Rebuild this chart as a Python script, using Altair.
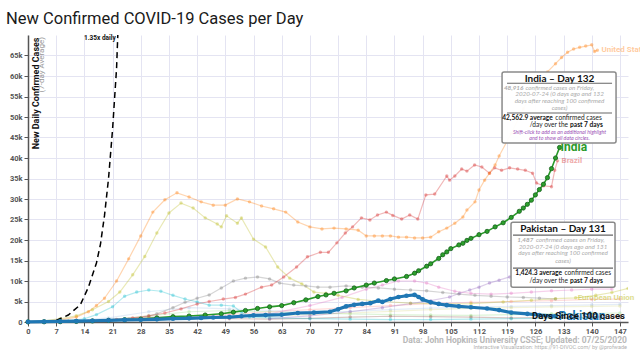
import altair as alt
import pandas as pd

TITLE = "New Confirmed COVID-19 Cases per Day"
Y_TITLE = "New Daily Confirmed Cases"
Y_SUBTITLE = "(7-day Average)"
X_TITLE = "Days Since 100 cases"
SOURCE = "Data: John Hopkins University CSSE; Updated: 07/25/2020"
CREDIT = "Interactive Visualization: https://91-DIVOC.com/ by @profwade"
REF_LABEL = "1.35x daily"
X_MAX = 149
Y_MAX = 70000
x_ticks = list(range(0, 148, 7))
y_ticks = list(range(0, 65001, 5000))

# ---- values in thousands of cases (7-day average) ----
us_days = [0, 4, 8, 12, 15, 17, 19, 22, 25, 28, 31, 34, 37, 40, 43, 46, 49, 52, 55, 58,
           61, 64, 67, 70, 73, 76, 79, 82, 84, 86, 88, 90, 92, 94, 96, 98, 100, 102, 104, 106,
           108, 109, 111, 112, 113.4, 114.6, 116, 117, 120, 123, 126, 129, 131, 132.5, 134,
           135.5, 137, 138.5, 140, 140.7, 141.4]
us_vals = [0.1, 0.2, 0.5, 1.2, 2.5, 4.0, 5.8, 10.0, 15.4, 21.0, 26.8, 29.8, 31.5, 30.5, 29.3,
           28.5, 28.5, 30.0, 29.3, 28.3, 27.6, 26.8, 24.4, 23.2, 22.7, 22.9, 22.7, 22.4, 21.0,
           21.0, 21.0, 21.0, 20.7, 20.7, 20.5, 20.5, 20.7, 22.0, 22.9, 24.1, 25.6, 27.3, 29.3,
           32.2, 34.6, 36.3, 38.3, 40.5, 46.0, 52.0, 57.0, 61.0, 63.0, 64.5, 65.8, 66.6, 67.0,
           67.3, 67.6, 66.0, 66.3]

br_days = [14, 18, 22, 26, 30, 34, 38, 42, 45, 48.5, 51.5, 54, 58, 60.5, 63.5, 66.7, 69.4,
           72.6, 74.6, 76.7, 78.8, 80.6, 82.8, 84.9, 86.8, 89, 90.6, 92.8, 94.8, 96.8, 98.8,
           101, 104, 104.7, 106, 107.7, 109, 110.9, 112.7, 114.6, 115.9, 117.6, 119.6, 121.6,
           123.5, 125.3, 126.3, 128, 130, 130.8, 131.5]
br_vals = [0.1, 0.3, 0.6, 1.0, 1.5, 2.2, 3.2, 4.4, 5.0, 5.6, 6.0, 6.8, 8.5, 9.0, 11.0, 13.4,
           15.9, 17.0, 17.0, 19.3, 21.7, 23.2, 25.4, 24.9, 26.1, 26.8, 26.0, 25.1, 26.1, 25.1,
           31.0, 31.2, 35.6, 34.6, 35.6, 37.3, 36.8, 38.3, 37.8, 36.3, 37.6, 37.0, 37.6, 37.3,
           37.0, 36.3, 33.9, 33.2, 33.0, 37.0, 39.3]

eu_days = [0, 4, 8, 12, 16, 20, 22.8, 26, 29, 32, 35, 38, 41, 44, 47, 48, 49.3, 52, 53, 56,
           59, 62, 65, 68, 71, 74, 77, 82, 88, 95, 102, 110, 118, 125, 131, 136, 141, 145, 149]
eu_vals = [0.1, 0.3, 0.8, 1.5, 3.0, 5.0, 7.3, 11.5, 16.0, 21.7, 26.6, 29.0, 27.8, 25.4, 23.9,
           23.2, 25.9, 24.1, 25.4, 20.2, 18.3, 13.4, 10.7, 9.3, 7.3, 7.0, 6.5, 5.5, 5.0, 4.6,
           4.4, 4.5, 4.9, 5.3, 5.7, 5.9, 6.5, 7.2, 8.2]

ru_days = [10, 15, 20, 25, 28, 32, 36, 39, 42, 45, 48, 51, 54, 57, 60, 62.5, 66, 69, 72, 75,
           79, 83, 87, 91, 95, 99, 103, 107, 111, 115, 119, 123, 127, 131]
ru_vals = [0.05, 0.2, 0.4, 0.7, 1.0, 2.0, 3.5, 4.8, 5.8, 6.6, 8.3, 10.0, 10.7, 11.0, 10.5, 9.5,
           9.0, 8.8, 8.5, 8.5, 8.8, 8.5, 8.3, 8.0, 7.8, 7.6, 7.2, 6.8, 6.5, 6.3, 6.1, 6.0, 5.8, 5.6]

cy_days = [10, 14, 17, 21, 24, 27, 30, 33, 36, 39, 42, 45, 48, 51, 53, 55, 60, 70, 80, 90,
           100, 110, 120, 130, 140]
cy_vals = [0.2, 0.8, 1.8, 3.7, 6.3, 7.3, 7.8, 7.5, 6.5, 5.6, 4.9, 4.1, 4.1, 3.9, 2.4, 1.2, 1.0,
           0.8, 0.7, 0.6, 0.6, 0.7, 0.8, 0.9, 1.0]

lv_days = [60, 70, 80, 88, 95, 100, 104.7, 107.2, 109.7, 112, 114.6, 117, 119.6, 122, 125, 128]
lv_vals = [0.8, 1.5, 2.5, 3.5, 4.5, 5.2, 6.1, 7.0, 7.8, 8.5, 9.5, 10.2, 11.0, 12.0, 12.5, 13.0]

pk_days = [50, 60, 70, 78, 84, 88, 92, 96, 99, 102, 106, 110, 115, 120, 125, 130, 135, 140, 145]
pk_vals = [1.0, 2.0, 4.0, 6.0, 8.0, 9.0, 10.0, 10.0, 9.5, 8.5, 7.5, 7.0, 6.8, 7.0, 7.3, 7.6,
           7.8, 8.0, 8.0]

low_days = [10, 20, 30, 40, 50, 60, 70, 80, 90, 100, 110, 120, 130, 140, 147]
low1_vals = [0.1, 0.3, 0.6, 1.2, 1.8, 2.5, 3.0, 3.5, 4.0, 4.5, 4.8, 5.0, 5.2, 5.5, 5.6]
low2_vals = [0.1, 0.5, 1.5, 2.5, 2.8, 2.5, 2.2, 2.0, 1.8, 1.7, 1.6, 1.8, 2.0, 2.1, 2.2]
low3_vals = [0.1, 0.6, 1.2, 1.0, 0.8, 0.7, 0.9, 1.2, 1.4, 1.3, 1.2, 1.0, 1.1, 1.2, 1.3]
low4_vals = [0.2, 1.0, 2.5, 3.5, 3.2, 2.8, 2.5, 2.6, 3.0, 3.4, 3.6, 3.8, 4.0, 4.2, 4.3]
low5_vals = [0.1, 0.4, 0.8, 1.0, 1.3, 1.5, 1.8, 2.2, 2.6, 3.0, 3.3, 3.5, 3.7, 3.8, 3.9]

india_days = [0, 4, 8, 12, 16, 20, 24, 28, 32, 36, 40, 44, 48, 51, 54, 57, 60, 63, 66, 69,
              72, 74, 76, 79, 81, 84, 86, 89, 91, 94, 96, 97, 99, 100, 102, 103, 104, 105, 107,
              108, 109, 110, 112, 114, 116, 118, 120, 122, 123, 124, 125, 126, 127, 128, 129,
              130, 131, 132]
india_vals = [0.02, 0.05, 0.08, 0.15, 0.25, 0.4, 0.55, 0.7, 1.0, 1.3, 1.45, 1.7, 2.0, 2.4, 2.8,
              3.3, 3.7, 4.0, 4.7, 5.4, 6.2, 6.6, 7.0, 7.6, 8.3, 9.0, 9.5, 10.1, 10.5, 11.1, 11.9,
              12.5, 13.6, 14.2, 15.5, 16.4, 17.1, 17.9, 18.8, 19.2, 19.9, 20.4, 21.3, 22.1, 23.2,
              24.2, 25.5, 27.0, 27.8, 28.7, 29.7, 31.0, 32.3, 33.6, 35.2, 37.4, 40.0, 42.5629]

pak_days = [0, 4, 8, 12, 16, 20, 24, 28, 32, 36, 40, 43, 46, 50, 53, 56, 59, 63, 67, 71, 75,
            77, 79, 81, 83, 85, 87, 88, 90, 92, 94, 96, 97, 98, 100, 102, 104, 107, 110, 114,
            117, 120, 124, 127, 131]
pak_vals = [0.05, 0.1, 0.15, 0.2, 0.3, 0.4, 0.5, 0.55, 0.65, 0.8, 0.9, 1.0, 1.1, 1.2, 1.4, 1.6,
            1.7, 1.8, 2.2, 2.3, 2.5, 3.1, 3.8, 4.2, 4.4, 4.6, 5.2, 4.9, 5.6, 6.1, 6.4, 6.6, 6.1,
            5.5, 4.8, 4.4, 4.1, 3.8, 3.6, 3.3, 2.9, 2.3, 2.0, 1.7, 1.4243]

ref_days = [7, 10, 13, 15, 17, 18, 19, 20, 21, 22, 22.3]
ref_vals = [0.4, 1.7, 4.2, 8.5, 14.4, 19, 26, 35, 47, 62, 70]

faint = [
    ("Other 1", "#ff9896", low_days, low1_vals),
    ("Other 2", "#98df8a", low_days, low2_vals),
    ("Other 3", "#8c564b", low_days, low3_vals),
    ("Other 4", "#aec7e8", low_days, low4_vals),
    ("Other 5", "#dbdb8d", low_days, low5_vals),
    ("Cyan", "#17becf", cy_days, cy_vals),
    ("Lavender", "#9467bd", lv_days, lv_vals),
    ("Pink", "#e377c2", pk_days, pk_vals),
    ("Russia", "#7f7f7f", ru_days, ru_vals),
    ("European Union", "#bcbd22", eu_days, eu_vals),
    ("Brazil", "#d62728", br_days, br_vals),
    ("United States", "#ff7f0e", us_days, us_vals),
]


def frame(days, vals, name):
    return pd.DataFrame({"country": name, "day": days, "value": [v * 1000 for v in vals]})


faint_df = pd.concat([frame(d, v, n) for n, _, d, v in faint], ignore_index=True)
faint_names = [n for n, _, _, _ in faint]
faint_colors = [c for _, c, _, _ in faint]
india_df = frame(india_days, india_vals, "India")
pak_df = frame(pak_days, pak_vals, "Pakistan")
ref_df = frame(ref_days, ref_vals, "ref")

LAB = "Roboto"
xs = alt.Scale(domain=[0, X_MAX], nice=False, zero=False)
ys = alt.Scale(domain=[0, Y_MAX], nice=False)
x_axis = alt.Axis(values=x_ticks, title=None, labelFont=LAB, labelFontSize=7.5,
                  labelFontWeight="bold", labelColor="#555", tickColor="#555", tickSize=4,
                  domainColor="#555", domainWidth=1.5, gridColor="#e4e4f2", labelPadding=1,
                  labelFlush=False)
y_axis = alt.Axis(values=y_ticks, labelExpr="datum.value == 0 ? '0' : (datum.value / 1000) + 'k'",
                  title=Y_TITLE, titleAngle=270, titleAlign="right", titleBaseline="top",
                  titleX=3, titleY=2, titleFontSize=9, titleFontWeight="bold", titleColor="#111",
                  titleFont=LAB, labelFont=LAB, labelFontSize=7.5, labelFontWeight="bold",
                  labelColor="#555", tickColor="#555", tickSize=4, domainColor="#555",
                  domainWidth=1.5, gridColor="#e4e4f2", labelPadding=2)
X = alt.X("day:Q", scale=xs, axis=x_axis)
Y = alt.Y("value:Q", scale=ys, axis=y_axis)
color = alt.Color("country:N", scale=alt.Scale(domain=faint_names, range=faint_colors), legend=None)

layers = []
layers.append(alt.Chart(faint_df).mark_line(strokeWidth=1.2, opacity=0.33, clip=True)
              .encode(x=X, y=Y, color=color, detail="country:N", order="day:Q"))
layers.append(alt.Chart(faint_df).mark_circle(size=12, opacity=0.38, clip=True)
              .encode(x=X, y=Y, color=color))
layers.append(alt.Chart(ref_df).mark_line(color="black", strokeWidth=1.5, strokeDash=[6, 4], clip=True)
              .encode(x=X, y=Y, order="day:Q"))
layers.append(alt.Chart(india_df).mark_line(color="#2a9a2a", strokeWidth=1.6)
              .encode(x=X, y=Y, order="day:Q"))
layers.append(alt.Chart(india_df).mark_point(filled=True, size=18, fill="#2ca02c", stroke="#14601a",
                                             strokeWidth=0.8, opacity=1, shape="circle")
              .encode(x=X, y=Y))
layers.append(alt.Chart(pak_df).mark_line(color="#1f77b4", strokeWidth=3.2)
              .encode(x=X, y=Y, order="day:Q"))
layers.append(alt.Chart(pak_df).mark_circle(size=22, color="#1f77b4", opacity=1)
              .encode(x=X, y=Y))


def anchor_of(days, vals, i=-1):
    return pd.DataFrame({"day": [days[i]], "value": [vals[i] * 1000]})


def note(anchor, text, dx=0, dy=0, size=8, color="#111", weight="normal", style="normal",
         align="center", font="Lato", angle=0, baseline="middle", opacity=1.0):
    return (alt.Chart(anchor)
            .mark_text(text=text, dx=dx, dy=dy, fontSize=size, color=color, fontWeight=weight,
                       fontStyle=style, align=align, baseline=baseline, font=font, angle=angle,
                       opacity=opacity)
            .encode(x=X, y=Y))


def sep(anchor, x0, x1, dy):
    return (alt.Chart(anchor)
            .mark_rule(xOffset=x0, x2Offset=x1, yOffset=dy, y2Offset=dy, color="#666", strokeWidth=1.1)
            .encode(x=X, x2=alt.X2("day"), y=Y, y2=alt.Y2("value")))


def box(anchor, x0, x1, y0, y1):
    return (alt.Chart(anchor)
            .mark_rect(xOffset=x0, x2Offset=x1, yOffset=y0, y2Offset=y1, fill="white",
                       fillOpacity=0.95, stroke="#8a8a8a", strokeWidth=1.5, cornerRadius=2)
            .encode(x=X, x2=alt.X2("day"), y=Y, y2=alt.Y2("value")))


top_left = pd.DataFrame({"day": [0], "value": [Y_MAX]})
bottom_right = pd.DataFrame({"day": [X_MAX], "value": [0]})
ref_end = anchor_of(ref_days, ref_vals)
us_end = anchor_of(us_days, us_vals)
br_end = anchor_of(br_days, br_vals)
eu_at = anchor_of(eu_days, eu_vals, 35)
in_end = anchor_of(india_days, india_vals)
pk_end = anchor_of(pak_days, pak_vals)

layers += [
    note(top_left, Y_SUBTITLE, dx=-2, dy=10, size=8, color="#999", align="right",
         baseline="top", font=LAB, angle=270),
    note(ref_end, REF_LABEL, dx=-2, dy=3, size=6.5, weight="bold", align="right", font=LAB),
    note(us_end, "United States", dx=4, size=8, color="#ff7f0e", weight="bold", align="left",
         font=LAB, opacity=0.4),
    note(br_end, "Brazil", dx=4, size=8, color="#d62728", weight="bold", align="left",
         font=LAB, opacity=0.4),
    note(eu_at, "European Union", dx=2, size=8, color="#bcbd22", weight="bold", align="left",
         font=LAB, opacity=0.5),
    note(in_end, "India", dx=1, dy=0, size=12, color="#2a9a2a", weight="bold", align="left", font=LAB),
    note(pk_end, "Pakistan", dx=3, dy=0, size=12, color="#1f77b4", weight="bold", align="left", font=LAB),
    note(bottom_right, X_TITLE, dx=-3, dy=-6, size=9.5, weight="bold", align="right", font=LAB),
    note(bottom_right, SOURCE, dx=-1, dy=17.5, size=8.5, color="#b8b8b8", weight="bold",
         align="right", font=LAB),
    note(bottom_right, CREDIT, dx=-1, dy=25, size=5.5, color="#b0b0b0", align="right", font=LAB),
]

# India tooltip
GRAY = "#ababab"
TS = 6.3
BS = 6.6
PS = 5.3
layers += [
    box(in_end, -57.5, 56.5, -75.5, -4.5),
    note(in_end, "India \u2013 Day 132", dx=0, dy=-68.2, size=10, weight="bold"),
    sep(in_end, -52.5, 52.5, -64.2),
    note(in_end, "48,916", dx=-36.2, dy=-59.2, size=TS, color=GRAY, weight="bold", style="italic", align="right"),
    note(in_end, "confirmed cases on Friday,", dx=-34, dy=-59.2, size=TS, color=GRAY, style="italic", align="left"),
    note(in_end, "2020-07-24 (0 days ago and 132", dy=-53.2, size=TS, color=GRAY, style="italic"),
    note(in_end, "days after reaching 100 confirmed", dy=-46.2, size=TS, color=GRAY, style="italic"),
    note(in_end, "cases)", dy=-39.2, size=TS, color=GRAY, style="italic"),
    sep(in_end, -52.5, 52.5, -34.5),
    note(in_end, "42,562.9 average", dx=-6.8, dy=-29.8, size=BS, weight="bold", align="right"),
    note(in_end, "confirmed cases", dx=-4.2, dy=-29.8, size=BS, color="#222", align="left"),
    note(in_end, "/day over the", dx=8.5, dy=-22.4, size=BS, color="#222", align="right"),
    note(in_end, "past 7 days", dx=10.5, dy=-22.4, size=BS, weight="bold", align="left"),
    note(in_end, "Shift-click to add as an additional highlight", dy=-15.2, size=PS, color="#9a4fb5", style="italic"),
    note(in_end, "and to show all data circles.", dy=-9.4, size=PS, color="#9a4fb5", style="italic"),
]

# Pakistan tooltip
layers += [
    box(pk_end, -44.5, 59.5, -94, -29),
    note(pk_end, "Pakistan \u2013 Day 131", dx=7.5, dy=-87, size=10, weight="bold"),
    sep(pk_end, -42.5, 57.5, -81),
    note(pk_end, "1,487", dx=-22.2, dy=-76, size=TS, color=GRAY, weight="bold", style="italic", align="right"),
    note(pk_end, "confirmed cases on Friday,", dx=-19.5, dy=-76, size=TS, color=GRAY, style="italic", align="left"),
    note(pk_end, "2020-07-24 (0 days ago and 131", dx=7.5, dy=-69, size=TS, color=GRAY, style="italic"),
    note(pk_end, "days after reaching 100 confirmed", dx=7.5, dy=-62.7, size=TS, color=GRAY, style="italic"),
    note(pk_end, "cases)", dx=7.5, dy=-55, size=TS, color=GRAY, style="italic"),
    sep(pk_end, -42.5, 57.5, -48),
    note(pk_end, "1,424.3 average", dx=6.5, dy=-43, size=BS, weight="bold", align="right"),
    note(pk_end, "confirmed cases", dx=9, dy=-43, size=BS, color="#222", align="left"),
    note(pk_end, "/day over the", dx=12.5, dy=-35, size=BS, color="#222", align="right"),
    note(pk_end, "past 7 days", dx=14.5, dy=-35, size=BS, weight="bold", align="left"),
]

chart = (alt.layer(*layers)
         .properties(width=600, height=287,
                     title=alt.TitleParams(text=TITLE, anchor="start", frame="group", dx=-22,
                                           dy=16, offset=11, baseline="alphabetic", fontSize=16.5,
                                           font="Roboto", fontWeight="normal", color="#1a1a1a"),
                     autosize=alt.AutoSizeParams(type="none"),
                     padding={"left": 28, "top": 35, "right": 12, "bottom": 31},
                     background="white")
         .configure_view(strokeWidth=0))

chart.save("out.html", embed_options={"renderer": "svg", "actions": False})
